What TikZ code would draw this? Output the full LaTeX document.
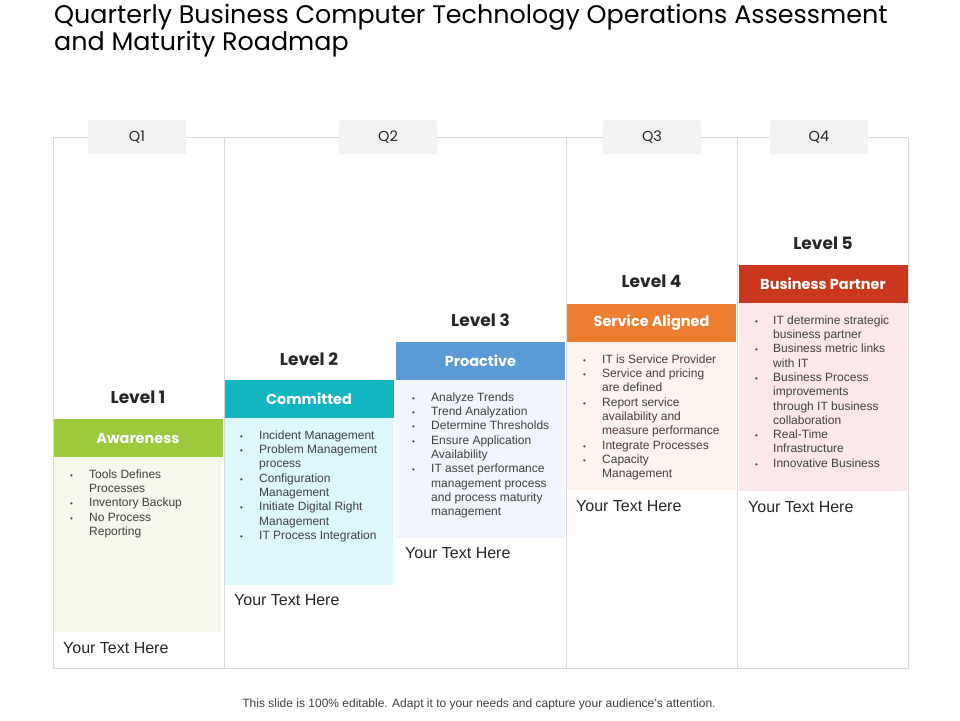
\documentclass[tikz,border=0pt]{standalone}
\usepackage{fontspec}
\setmainfont{Liberation Sans}
\newfontfamily\geo{Poppins}
\usetikzlibrary{positioning}
\definecolor{frame}{HTML}{D9D9D9}
\definecolor{tabbg}{HTML}{F2F2F2}
\definecolor{txt}{HTML}{404040}
\definecolor{dark}{HTML}{262626}
\definecolor{cA}{HTML}{9DC93C}
\definecolor{bA}{HTML}{F5F8EA}
\definecolor{cB}{HTML}{13B5C1}
\definecolor{bB}{HTML}{DCF8FB}
\definecolor{cC}{HTML}{5B9BD5}
\definecolor{bC}{HTML}{F0F6FC}
\definecolor{cD}{HTML}{ED7D31}
\definecolor{bD}{HTML}{FDF4EE}
\definecolor{cE}{HTML}{C9381E}
\definecolor{bE}{HTML}{FCE8E8}
\newcommand{\bl}{{\fontsize{8}{8}\selectfont\textbullet}}
\tikzset{
  tabbox/.style={fill=tabbg, rounded corners=3pt, minimum width=98pt, minimum height=34pt, inner sep=0pt, font=\geo\fontsize{14.5}{14.5}\selectfont, text=dark},
  hdr/.style={minimum width=169pt, minimum height=38pt, inner sep=0pt, text=white, font=\geo\bfseries\fontsize{14.5}{15}\selectfont},
  lvl/.style={inner sep=0pt, text=dark, font=\geo\bfseries\fontsize{17}{17}\selectfont},
  blist/.style={anchor=north west, inner sep=0pt, text=txt, font=\fontsize{12}{14.3}\selectfont},
  yth/.style={anchor=west, inner sep=0pt, text=dark, font=\fontsize{16}{16}\selectfont},
}
\begin{document}
\begin{tikzpicture}[x=1pt,y=-1pt]
\useasboundingbox (0,0) rectangle (960,720);
% title
\node[anchor=north west, inner sep=0pt, align=left, text=black, font=\geo\fontsize{25.4}{26}\selectfont] (title) at (54,4) {Quarterly Business Computer Technology Operations Assessment\\and Maturity Roadmap};
% frame
\draw[frame, line width=0.8pt] (53,137) rectangle (908,668);
\foreach \x in {224,566,737} \draw[frame, line width=0.8pt] (\x,137) -- (\x,668);
% tabs
\node[tabbox] (q1) at (137,137) {};
\node[tabbox] (q2) at (388,137) {};
\node[tabbox] (q3) at (652,137) {};
\node[tabbox] (q4) at (819,137) {};
\fill[tabbg] (88,137) rectangle (186,154);
\fill[tabbg] (339,137) rectangle (437,154);
\fill[tabbg] (603,137) rectangle (701,154);
\fill[tabbg] (770,137) rectangle (868,154);
\node[tabbox, fill=none] (q1t) at (137,137) {Q1};
\node[tabbox, fill=none] (q2t) at (388,137) {Q2};
\node[tabbox, fill=none] (q3t) at (652,137) {Q3};
\node[tabbox, fill=none] (q4t) at (819,137) {Q4};
% bodies
\fill[bA] (54,457) rectangle (222,632);
\fill[bB] (225,418) rectangle (393,585);
\fill[bC] (396,380) rectangle (565,538);
\fill[bD] (567,341) rectangle (736,490);
\fill[bE] (739,303) rectangle (907,491);
% headers
\node[hdr, fill=cA] (h1) at (138,438) {Awareness};
\node[hdr, fill=cB] (h2) at (309,399) {Committed};
\node[hdr, fill=cC] (h3) at (480.5,361) {Proactive};
\node[hdr, fill=cD] (h4) at (651.5,322.5) {Service Aligned};
\node[hdr, fill=cE] (h5) at (823,284) {Business Partner};
% level labels
\node[lvl] (l1) at (138,397) {Level 1};
\node[lvl] (l2) at (309,359) {Level 2};
\node[lvl] (l3) at (480.5,320) {Level 3};
\node[lvl] (l4) at (651.5,281) {Level 4};
\node[lvl] (l5) at (823,243) {Level 5};
% bullet lists
\node[blist] (b1) at (70,468) {\begin{tabular}{@{}p{19pt}@{}l@{}}
\bl & Tools Defines\\ & Processes\\ \bl & Inventory Backup\\ \bl & No Process\\ & Reporting
\end{tabular}};
\node[blist] (b2) at (240,429) {\begin{tabular}{@{}p{19pt}@{}l@{}}
\bl & Incident Management\\ \bl & Problem Management\\ & process\\ \bl & Configuration\\ & Management\\ \bl & Initiate Digital Right\\ & Management\\ \bl & IT Process Integration
\end{tabular}};
\node[blist] (b3) at (412,391) {\begin{tabular}{@{}p{19pt}@{}l@{}}
\bl & Analyze Trends\\ \bl & Trend Analyzation\\ \bl & Determine Thresholds\\ \bl & Ensure Application\\ & Availability\\ \bl & IT asset performance\\ & management process\\ & and process maturity\\ & management
\end{tabular}};
\node[blist] (b4) at (583,353) {\begin{tabular}{@{}p{19pt}@{}l@{}}
\bl & IT is Service Provider\\ \bl & Service and pricing\\ & are defined\\ \bl & Report service\\ & availability and\\ & measure performance\\ \bl & Integrate Processes\\ \bl & Capacity\\ & Management
\end{tabular}};
\node[blist] (b5) at (755,314) {\begin{tabular}{@{}p{18pt}@{}l@{}}
\bl & IT determine strategic\\ & business partner\\ \bl & Business metric links\\ & with IT\\ \bl & Business Process\\ & improvements\\ & through IT business\\ & collaboration\\ \bl & Real-Time\\ & Infrastructure\\ \bl & Innovative Business
\end{tabular}};
% your text here
\node[yth] (y1) at (63,648) {Your Text Here};
\node[yth] (y2) at (234,600) {Your Text Here};
\node[yth] (y3) at (405,553) {Your Text Here};
\node[yth] (y4) at (576,506) {Your Text Here};
\node[yth] (y5) at (748,507) {Your Text Here};
% footer
\node[inner sep=0pt, text=txt, font=\fontsize{12}{12}\selectfont] (foot) at (479,704) {This slide is 100\% editable. Adapt it to your needs and capture your audience's attention.};
\end{tikzpicture}
\end{document}
